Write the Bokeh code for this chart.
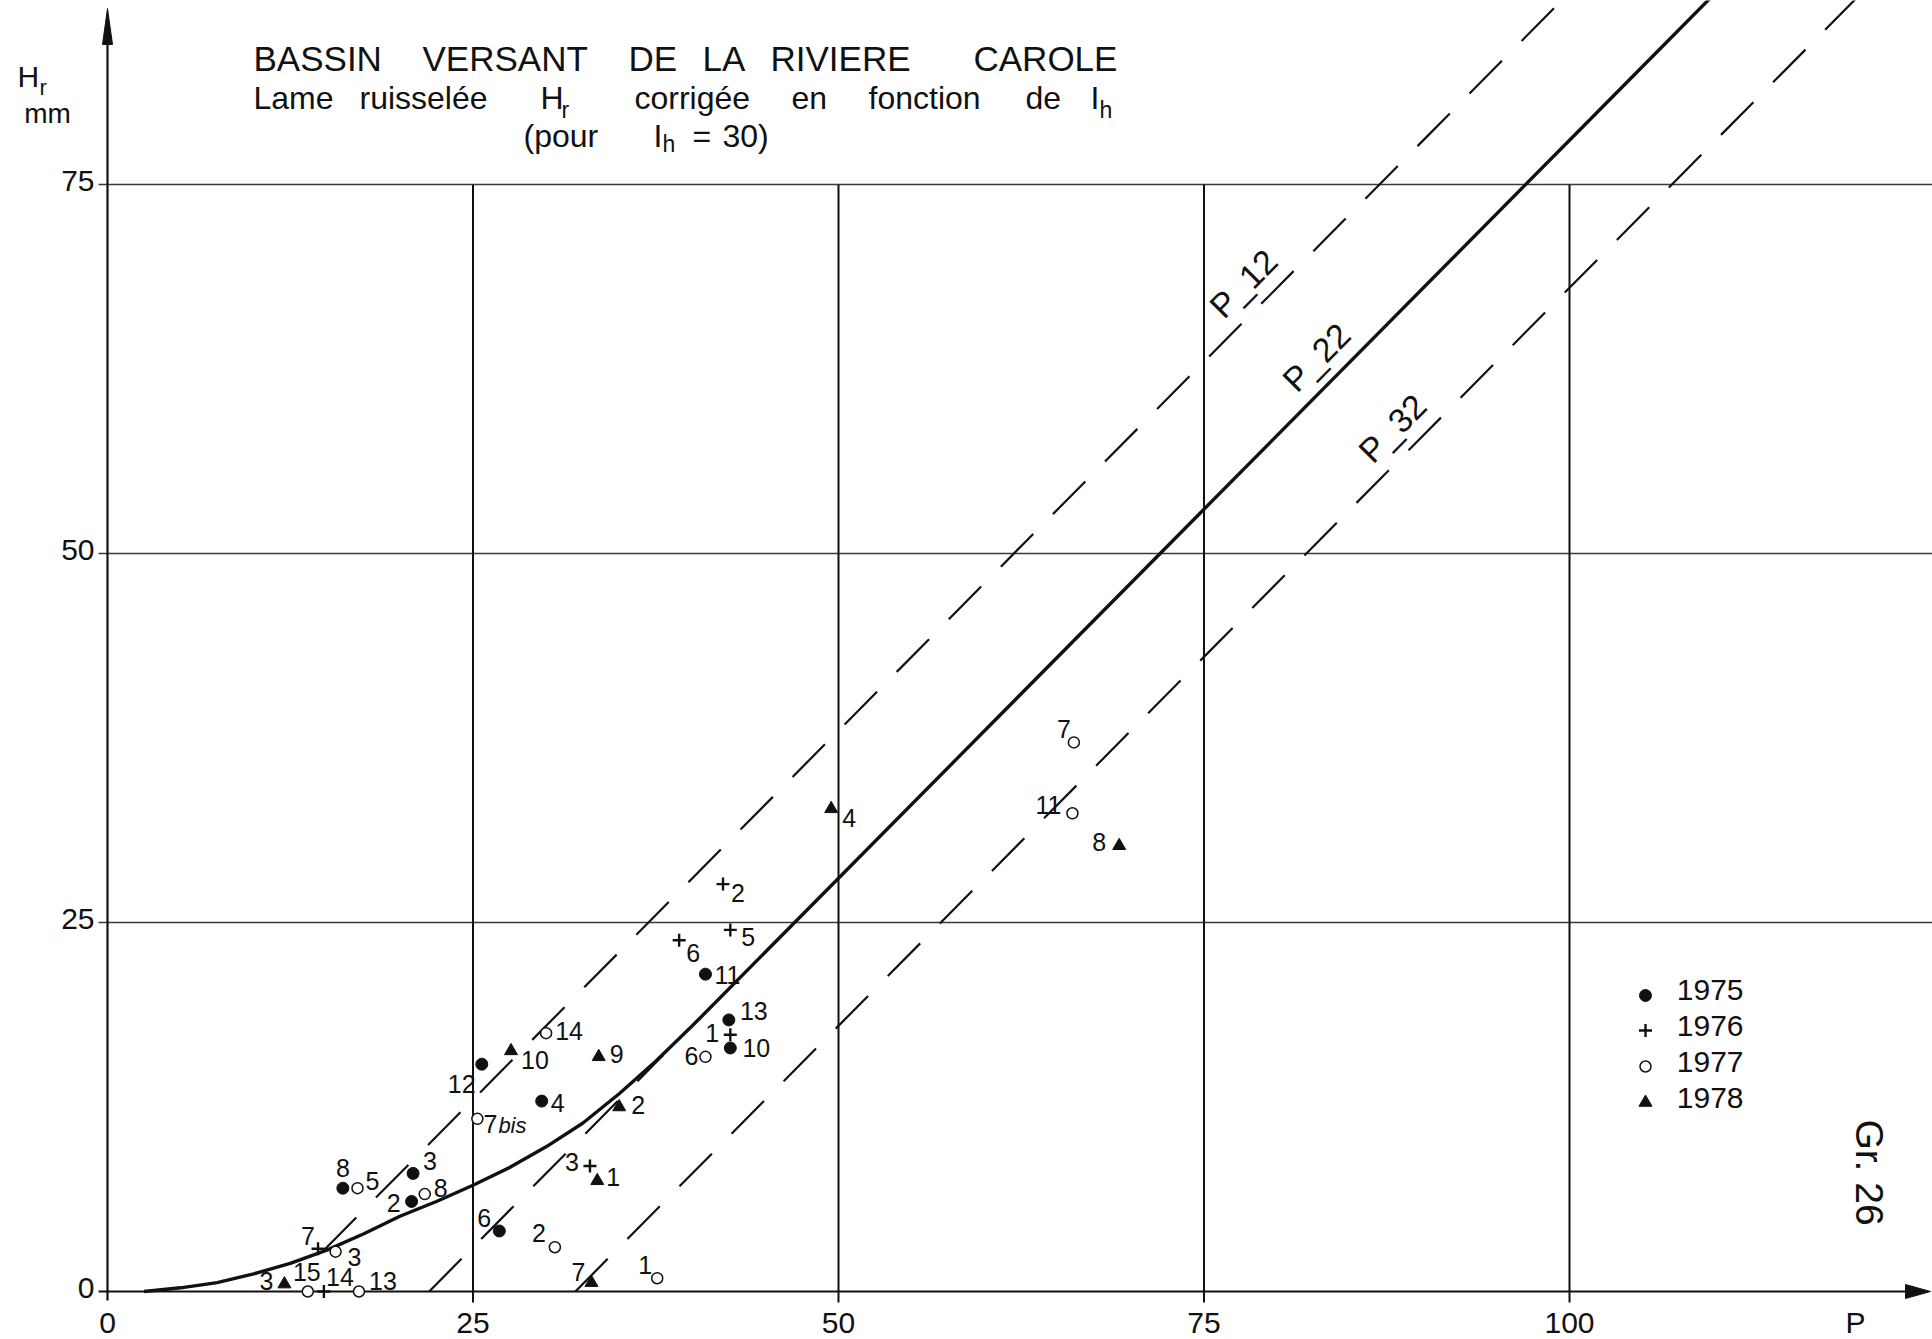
import math
from bokeh.plotting import figure
from bokeh.models import Range1d
from bokeh.core.properties import value
from bokeh.embed import file_html
from bokeh.resources import INLINE

# ---------------------------------------------------------------- data
x_ticks = [0, 25, 50, 75, 100]
y_ticks = [0, 25, 50, 75]
x_grid = [25, 50, 75, 100]
y_grid = [25, 50, 75]

# adjusted curve Hr = f(P), reading "P_22"
curve_p = [2.5, 5, 7.5, 10, 12.5, 15, 17.5, 20, 22.5, 25, 27.5, 30, 32.5,
           35, 37.5, 40, 45, 50, 75, 100, 115]
curve_h = [0.0, 0.25, 0.6, 1.2, 1.9, 2.8, 3.9, 5.1, 6.1, 7.2, 8.4, 9.8, 11.4,
           13.4, 15.6, 18.0, 23.0, 28.0, 53.0, 78.0, 93.0]

# dashed straight lines Hr = P - k and the P range over which each is drawn
env_k = [12, 22, 32]
env_from = [14.8, 22.0, 32.0]
env_to = [102.0, 38.0, 122.0]
env_names = ["P_12", "P_22", "P_32"]
env_label_p = [79.0, 84.0, 89.2]

# observed events, one set per year
p1975 = [16.1, 20.9, 20.8, 25.6, 29.7, 26.8, 40.9, 42.5, 42.6]
h1975 = [7.0, 8.0, 6.1, 15.4, 12.9, 4.1, 21.5, 18.4, 16.5]
n1975 = ["8", "3", "2", "12", "4", "6", "11", "13", "10"]

p1976 = [14.4, 14.8, 33.0, 39.1, 42.1, 42.6, 42.6]
h1976 = [2.9, 0.0, 8.5, 23.8, 27.6, 24.5, 17.4]
n1976 = ["7", "14", "3", "6", "2", "5", "1"]

p1977 = [13.7, 17.2, 15.6, 17.1, 21.7, 25.3, 30.0, 40.9, 30.6, 37.6, 66.1, 66.0]
h1977 = [0.0, 0.0, 2.7, 7.0, 6.6, 11.7, 17.5, 15.9, 3.0, 0.9, 37.2, 32.4]
n1977 = ["15", "13", "3", "5", "8", "7bis", "14", "6", "2", "1", "7", "11"]

p1978 = [12.1, 27.6, 33.6, 35.0, 33.5, 33.1, 49.5, 69.2]
h1978 = [0.5, 16.3, 15.9, 12.5, 7.5, 0.6, 32.7, 30.2]
n1978 = ["3", "10", "9", "2", "1", "7", "4", "8"]

years = ["1975", "1976", "1977", "1978"]

# label placement around each point (pixels, right / up)
off1975 = [(0, 20), (17, 12), (-18, -2), (-20, -20), (16, -2), (-15, 13),
           (22, -1), (25, 9), (26, 0)]
off1976 = [(-10, 13), (16, 15), (-18, 4), (14, -13), (15, -9), (18, -7), (-18, 2)]
off1977 = [(-1, 20), (24, 11), (19, -5), (15, 7), (16, 6), (13, -5), (23, 2),
           (-14, 1), (-16, 14), (-12, 13), (-10, 13), (-24, 8)]
off1978 = [(-18, 3), (24, -9), (18, 3), (19, 2), (16, 4), (-13, 11), (18, -9),
           (-20, 4)]

# ---------------------------------------------------------------- layout
W, H = 1932, 1339
X0, XS = 107.0, 14.62     # pixel column of P = 0, pixels per mm
Y0, YS = 1291.0, 14.76    # pixel row of Hr = 0, pixels per mm


def dx(px):
    return (px - X0) / XS


def dy(py):
    return (Y0 - py) / YS


FONT = value("Liberation Sans")
INK = "#111111"

p = figure(width=W, height=H, title=None,
           x_range=Range1d(dx(0), dx(W)), y_range=Range1d(dy(H), dy(0)),
           x_axis_location=None, y_axis_location=None,
           output_backend="svg", toolbar_location=None, min_border=0)
p.grid.visible = False
p.outline_line_color = None
p.background_fill_color = "white"
p.border_fill_color = "white"


def words(lefts, cy, texts, size, **kw):
    p.text([dx(v) for v in lefts], [dy(cy)] * len(texts), text=texts,
           text_font=FONT, text_font_size=size, text_align="left",
           text_baseline="middle", text_color=INK, **kw)


# ---------------------------------------------------------------- frame
# horizontal rules at 25, 50, 75 (with their small tick to the left)
for g in y_grid:
    p.line([dx(98), dx(W)], [g, g], line_color="#3a3a3a", line_width=1.6)
# vertical rules at 25 .. 100, stopping at Hr = 75
for g in x_grid:
    p.line([g, g], [dy(1302), y_grid[-1]], line_color=INK, line_width=2)

# axes with arrow heads
p.line([dx(98), dx(W - 20)], [0, 0], line_color=INK, line_width=2.2)
p.line([0, 0], [dy(1300), dy(30)], line_color=INK, line_width=2.2)
p.patch([dx(W - 2), dx(W - 27), dx(W - 27)],
        [0, dy(Y0 - 7), dy(Y0 + 7)], color=INK)
p.patch([0, dx(X0 - 5), dx(X0 + 5)], [dy(8), dy(44), dy(44)], color=INK)

# tick labels
p.text([dx(94)] * len(y_ticks), [t + 4 / YS for t in y_ticks],
       text=[str(t) for t in y_ticks], text_font=FONT, text_font_size="30px",
       text_align="right", text_baseline="middle", text_color=INK)
p.text(x_ticks, [dy(1322)] * len(x_ticks), text=[str(t) for t in x_ticks],
       text_font=FONT, text_font_size="30px", text_align="center",
       text_baseline="middle", text_color=INK)
p.text([dx(1855)], [dy(1322)], text=["P"], text_font=FONT,
       text_font_size="30px", text_align="center", text_baseline="middle",
       text_color=INK)

# y axis title: H with subscript r, then mm
words([17], 76, ["H"], "30px")
words([39], 87, ["r"], "22px")
p.text([dx(47)], [dy(113)], text=["mm"], text_font=FONT,
       text_font_size="28px", text_align="center", text_baseline="middle",
       text_color=INK)

# ---------------------------------------------------------------- title
words([253, 422, 628, 702, 770, 973], 58,
      ["BASSIN", "VERSANT", "DE", "LA", "RIVIERE", "CAROLE"], "35px")
words([253, 359, 540, 634, 791, 868, 1025, 1090], 97,
      ["Lame", "ruisselée", "H", "corrigée", "en", "fonction", "de", "I"],
      "32px")
words([561, 1099], 109, ["r", "h"], "23px")
words([523, 653, 692, 722], 135, ["(pour", "I", "=", "30)"], "32px")
words([662], 143, ["h"], "23px")

# ---------------------------------------------------------------- curves
p.line(curve_p, curve_h, line_color=INK, line_width=3.4)

ang = math.atan2(YS, XS)
shift = 27.0
for k, a, b, name, lp in zip(env_k, env_from, env_to, env_names, env_label_p):
    p.line([a, b], [a - k, b - k], line_color=INK, line_width=2.2,
           line_dash="46 28")
    lx = lp - shift * math.sin(ang) / XS
    ly = (lp - k) + shift * math.cos(ang) / YS
    p.text([lx], [ly], text=[name], angle=ang, text_font=FONT,
           text_font_size="34px", text_align="center",
           text_baseline="middle", text_color=INK)


# ---------------------------------------------------------------- points
def place_labels(ps, hs, names, offs):
    xs, ys, ts = [], [], []
    for x, y, n, (ox, oy) in zip(ps, hs, names, offs):
        if n.endswith("bis"):
            n = n[:-3]
            p.text([x + (ox + 8) / XS], [y + (oy - 2) / YS], text=["bis"],
                   text_font=FONT, text_font_style="italic",
                   text_font_size="22px", text_align="left",
                   text_baseline="middle", text_color=INK)
        xs.append(x + ox / XS)
        ys.append(y + oy / YS)
        ts.append(n)
    p.text(xs, ys, text=ts, text_font=FONT, text_font_size="25px",
           text_align="center", text_baseline="middle", text_color=INK)


p.scatter(p1975, h1975, marker="circle", size=12, fill_color=INK,
          line_color=INK)
p.scatter(p1976, h1976, marker="cross", size=13, line_color=INK,
          line_width=2.4)
p.scatter(p1977, h1977, marker="circle", size=11, fill_color="white",
          line_color=INK, line_width=1.5)
p.scatter(p1978, h1978, marker="triangle", size=13, fill_color=INK,
          line_color=INK)

place_labels(p1975, h1975, n1975, off1975)
place_labels(p1976, h1976, n1976, off1976)
place_labels(p1977, h1977, n1977, off1977)
place_labels(p1978, h1978, n1978, off1978)

# ---------------------------------------------------------------- legend
leg_x = dx(1645)
leg_mark_y = [dy(995), dy(1030), dy(1066), dy(1102)]
p.scatter([leg_x], [leg_mark_y[0]], marker="circle", size=12,
          fill_color=INK, line_color=INK)
p.scatter([leg_x], [leg_mark_y[1]], marker="cross", size=13,
          line_color=INK, line_width=2.4)
p.scatter([leg_x], [leg_mark_y[2]], marker="circle", size=11,
          fill_color="white", line_color=INK, line_width=1.5)
p.scatter([leg_x], [leg_mark_y[3]], marker="triangle", size=13,
          fill_color=INK, line_color=INK)
p.text([dx(1743)] * 4, [dy(989), dy(1025), dy(1061), dy(1097)], text=years,
       text_font=FONT, text_font_size="30px", text_align="right",
       text_baseline="middle", text_color=INK)

# figure reference, written downwards
p.text([dx(1869)], [dy(1172)], text=["Gr. 26"], angle=-math.pi / 2,
       text_font=FONT, text_font_size="39px", text_align="center",
       text_baseline="middle", text_color=INK)

open("out.html", "w").write(file_html(p, INLINE, title="Lame ruisselée Hr"))
